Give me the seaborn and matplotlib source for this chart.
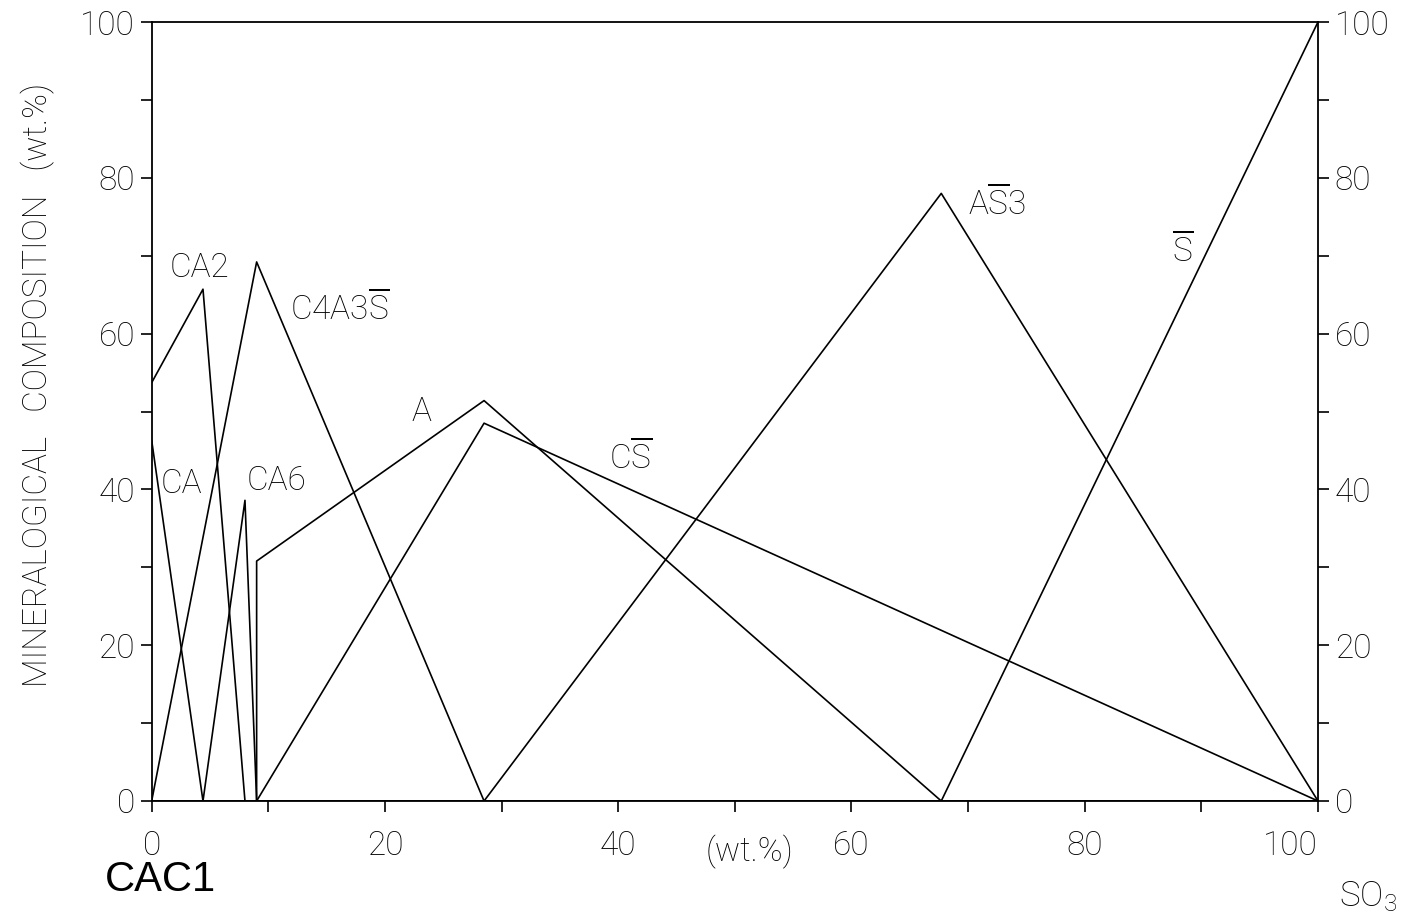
import matplotlib
matplotlib.use("Agg")
import matplotlib.pyplot as plt
import seaborn as sns
import pandas as pd
import numpy as np
from matplotlib.ticker import MultipleLocator

# ---- data ----
ca_x = [0, 4.4, 8.0, 9.0, 28.5, 67.7, 100]
ca_y = [46.3, 0, 0, 0, 0, 0, 0]
ca2_x = [0, 4.4, 8.0, 9.0, 28.5, 67.7, 100]
ca2_y = [53.7, 65.7, 0, 0, 0, 0, 0]
ca6_x = [0, 4.4, 8.0, 9.0, 28.5, 67.7, 100]
ca6_y = [0, 0, 38.6, 0, 0, 0, 0]
c4a3s_x = [0, 9.0, 28.5, 67.7, 100]
c4a3s_y = [0, 69.2, 0, 0, 0]
a_x = [0, 9.0, 9.0, 28.5, 67.7, 100]
a_y = [0, 0, 30.8, 51.4, 0, 0]
cs_x = [0, 9.0, 28.5, 100]
cs_y = [0, 0, 48.5, 0]
as3_x = [0, 28.5, 67.7, 100]
as3_y = [0, 0, 78.0, 0]
s_x = [0, 67.7, 100]
s_y = [0, 0, 100]

minerals = ["CA", "CA2", "CA6", "C4A3S", "A", "CS", "AS3", "S"]
xs = [ca_x, ca2_x, ca6_x, c4a3s_x, a_x, cs_x, as3_x, s_x]
ys = [ca_y, ca2_y, ca6_y, c4a3s_y, a_y, cs_y, as3_y, s_y]

label_texts = ["CA", "CA2", "CA6", r"C4A3$\overline{\mathrm{S}}$", "A",
               r"C$\overline{\mathrm{S}}$", r"A$\overline{\mathrm{S}}$3",
               r"$\overline{\mathrm{S}}$"]
label_x = [0.8, 1.5, 8.1, 11.9, 22.3, 39.2, 70.0, 87.5]
label_y = [40.7, 68.4, 41.1, 63.2, 49.9, 44.0, 76.6, 70.7]

x_ticks = [0, 20, 40, 60, 80, 100]
y_ticks = [0, 20, 40, 60, 80, 100]

rows = []
for m, xx, yy in zip(minerals, xs, ys):
    for i, (a, b) in enumerate(zip(xx, yy)):
        rows.append({"mineral": m, "order": i, "x": a, "y": b})
df = pd.DataFrame(rows)

# ---- style ----
sns.set_theme(style="white")
plt.rcParams["font.family"] = ["Roboto", "DejaVu Sans"]
plt.rcParams["font.weight"] = "light"
plt.rcParams["text.color"] = "black"
plt.rcParams["axes.labelcolor"] = "black"
plt.rcParams["xtick.color"] = "black"
plt.rcParams["ytick.color"] = "black"
plt.rcParams["mathtext.fontset"] = "custom"
plt.rcParams["mathtext.rm"] = "Roboto:light"
plt.rcParams["mathtext.it"] = "Roboto:italic:light"
plt.rcParams["mathtext.bf"] = "Roboto:bold"

fig = plt.figure(figsize=(14.03, 9.21), dpi=100)
ax = fig.add_axes([0.1081, 0.1303, 0.9394 - 0.1081, 0.9761 - 0.1303])

sns.lineplot(data=df, x="x", y="y", units="mineral", estimator=None,
             sort=False, color="black", linewidth=1.2, ax=ax, legend=False)

ax.set_xlim(0, 100)
ax.set_ylim(0, 100)
for sp in ax.spines.values():
    sp.set_color("black")
    sp.set_linewidth(1.3)

ax.set_xticks(x_ticks)
ax.set_yticks(y_ticks)
ax.xaxis.set_minor_locator(MultipleLocator(10))
ax.yaxis.set_minor_locator(MultipleLocator(10))
ax.tick_params(axis="both", which="both", direction="out", length=8,
               width=1.2, color="black", labelsize=24, labelcolor="black")
ax.tick_params(axis="y", which="both", left=True, right=True,
               labelleft=True, labelright=True)
ax.tick_params(axis="y", which="major", pad=3)
ax.tick_params(axis="x", which="both", bottom=True, top=False, pad=13)
ax.set_xticklabels([str(t) for t in x_ticks])
ax.get_xticklabels()[-1].set_horizontalalignment("right")
for t in ax.yaxis.get_major_ticks():
    t.set_pad(4)

ax.set_xlabel("")
ax.set_ylabel("MINERALOGICAL   COMPOSITION   (wt.%)", fontsize=24,
              fontweight="light", color="black")
ax.yaxis.set_label_coords(-0.083, 0.534)

for t, xx, yy in zip(label_texts, label_x, label_y):
    ax.text(xx, yy, t, fontsize=24, ha="left", va="center",
            color="black", fontweight="light")

fig.text(750 / 1403, 1 - 852 / 921, "(wt.%)", fontsize=24, ha="center",
         va="center", fontweight="light")
fig.text(105 / 1403, 1 - 880 / 921, "CAC1", fontsize=30, ha="left",
         va="center", family="Liberation Sans", fontweight="normal",
         color="black")
fig.text(1397 / 1403, 1 - 897 / 921, r"SO$_3$", fontsize=25, ha="right",
         va="center", fontweight="light")

fig.savefig("out.png", dpi=100, facecolor="white")
